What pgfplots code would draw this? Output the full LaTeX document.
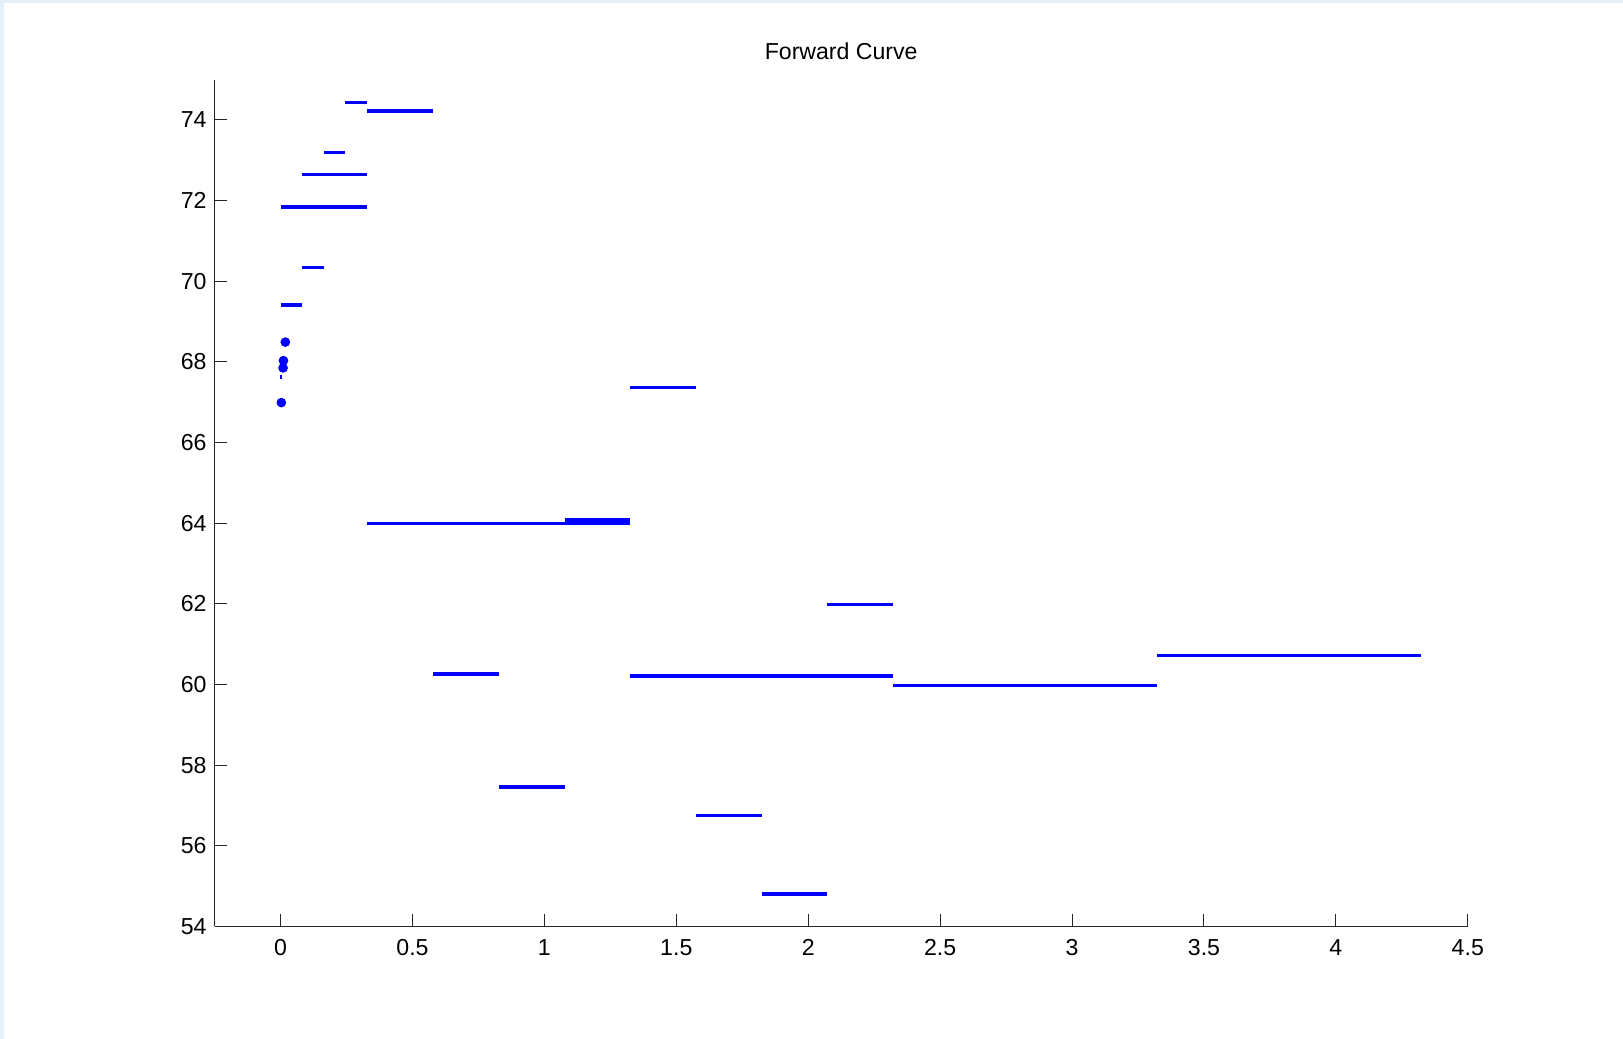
\documentclass[border=0pt]{standalone}
\usepackage{fontspec}
\setmainfont{Liberation Sans}
\usepackage{pgfplots}
\pgfplotsset{compat=1.18}
\usepackage{pgfplotstable}
\definecolor{mblue}{RGB}{0,0,255}
\definecolor{edgeblue}{RGB}{228,241,250}

\pgfplotstableread{
x y
0 69.41
0.080 69.41
nan nan
0.080 70.34
0.165 70.34
nan nan
0 71.84
0.328 71.84
nan nan
0.080 72.64
0.328 72.64
nan nan
0.165 73.20
0.245 73.20
nan nan
0.245 74.43
0.328 74.43
nan nan
0.328 74.22
0.578 74.22
nan nan
0.328 64.00
1.077 64.00
nan nan
0.578 60.26
0.827 60.26
nan nan
0.827 57.46
1.077 57.46
nan nan
1.077 64.00
1.326 64.00
nan nan
1.077 64.08
1.326 64.08
nan nan
1.326 67.37
1.575 67.37
nan nan
1.326 60.21
2.322 60.21
nan nan
1.575 56.75
1.824 56.75
nan nan
1.824 54.80
2.073 54.80
nan nan
2.073 61.98
2.322 61.98
nan nan
2.322 59.98
3.323 59.98
nan nan
3.323 60.72
4.321 60.72
}\segs

\pgfplotstableread{
x y
0.018 68.49
0.011 68.03
0.0095 67.85
0.003 66.99
}\dots

\begin{document}
\fontsize{11.6}{14}\selectfont
\begin{tikzpicture}
\path[use as bounding box] (0,0) rectangle (811.5bp,519.5bp);
\fill[white] (0,0) rectangle (811.5bp,519.5bp);
\fill[edgeblue] (0,518bp) rectangle (811.5bp,519.5bp);
\fill[edgeblue] (0,0) rectangle (2bp,519.5bp);
\begin{axis}[
  at={(107.3bp,56.3bp)}, anchor=south west,
  width=626.6bp, height=423.4bp, scale only axis,
  xmin=-0.25, xmax=4.5, ymin=54, ymax=75,
  axis x line=bottom, axis y line=left,
  axis line style={-, black!85, line width=0.5bp},
  xtick={0,0.5,...,4.5}, ytick={54,56,...,74},
  tick align=inside, major tick length=6bp,
  tick style={black!85, line width=0.5bp},
  /pgf/number format/assume math mode=true,
  ticklabel style={font=\fontsize{11.6}{14}\selectfont},
  xticklabel style={yshift=-2.5bp},
  unbounded coords=jump,
  clip=false,
]
\addplot[mblue, line width=1.65bp, no markers] table {\segs};
\addplot[mblue, only marks, mark=*, mark size=2.2bp, mark options={draw=mblue, fill=mblue}] table {\dots};
\addplot[mblue, only marks, mark=|, mark size=1.1bp, mark options={line width=0.8bp}] coordinates {(0.002,67.63)};
\node[font=\fontsize{11.6}{14}\selectfont] at (rel axis cs:0.5,1) [yshift=14bp] {Forward Curve};
\end{axis}
\end{tikzpicture}
\end{document}
